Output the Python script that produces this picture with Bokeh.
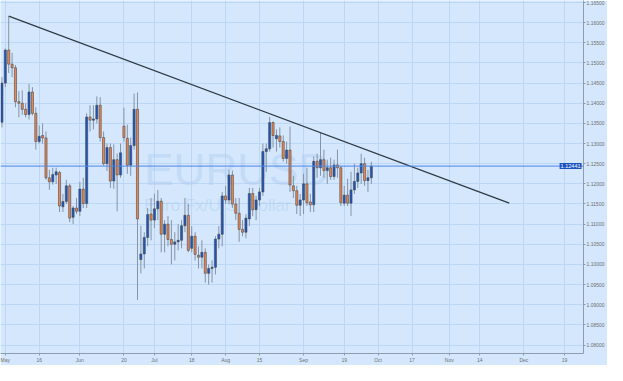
from bokeh.plotting import figure
from bokeh.models import FixedTicker, Range1d, Label, Span, PrintfTickFormatter, ColumnDataSource
from bokeh.embed import file_html
from bokeh.resources import INLINE

# ---- data: EUR/USD daily candles (trading-day index, -1 = Apr 29) ----
opens = [1.1353, 1.1450, 1.1532, 1.1497, 1.1488, 1.1404, 1.1400, 1.1385, 1.1372, 1.1428,
         1.1375, 1.1305, 1.1320, 1.1314, 1.1215, 1.1205, 1.1222, 1.1228, 1.1143, 1.1156,
         1.1195, 1.1117, 1.1140, 1.1132, 1.1187, 1.1151, 1.1366, 1.1358, 1.1361, 1.1395,
         1.1315, 1.1250, 1.1290, 1.1207, 1.1260, 1.1222, 1.1343, 1.1313, 1.1246, 1.1295,
         1.1385, 1.1012, 1.1026, 1.1067, 1.1125, 1.1110, 1.1138, 1.1157, 1.1075, 1.1100,
         1.1062, 1.1050, 1.1056, 1.1060, 1.1096, 1.1122, 1.1040, 1.1070, 1.1023, 1.1018,
         1.1030, 1.0978, 1.0990, 1.0993, 1.1063, 1.1075, 1.1170, 1.1160, 1.1222, 1.1150,
         1.1127, 1.1087, 1.1080, 1.1113, 1.1176, 1.1136, 1.1160, 1.1180, 1.1280, 1.1287,
         1.1352, 1.1312, 1.1319, 1.1305, 1.1263, 1.1284, 1.1195, 1.1183, 1.1147, 1.1160,
         1.1200, 1.1155, 1.1148, 1.1256, 1.1240, 1.1260, 1.1233, 1.1240, 1.1218, 1.1247,
         1.1240, 1.1152, 1.1172, 1.1152, 1.1185, 1.1206, 1.1227, 1.1250, 1.1208, 1.1215]
highs = [1.1465, 1.1536, 1.1616, 1.1525, 1.1495, 1.1430, 1.1432, 1.1400, 1.1448, 1.1440,
         1.1390, 1.1345, 1.1350, 1.1330, 1.1235, 1.1240, 1.1240, 1.1232, 1.1175, 1.1210,
         1.1200, 1.1145, 1.1165, 1.1205, 1.1215, 1.1375, 1.1395, 1.1395, 1.1417, 1.1415,
         1.1330, 1.1300, 1.1300, 1.1298, 1.1275, 1.1300, 1.1389, 1.1347, 1.1315, 1.1424,
         1.1427, 1.1096, 1.1080, 1.1140, 1.1165, 1.1175, 1.1185, 1.1165, 1.1110, 1.1120,
         1.1110, 1.1080, 1.1100, 1.1110, 1.1165, 1.1150, 1.1095, 1.1080, 1.1045, 1.1060,
         1.1040, 1.1000, 1.1010, 1.1070, 1.1095, 1.1180, 1.1195, 1.1235, 1.1233, 1.1165,
         1.1165, 1.1110, 1.1125, 1.1190, 1.1190, 1.1170, 1.1190, 1.1300, 1.1300, 1.1366,
         1.1355, 1.1335, 1.1340, 1.1320, 1.1305, 1.1342, 1.1220, 1.1195, 1.1175, 1.1225,
         1.1240, 1.1175, 1.1268, 1.1275, 1.1327, 1.1285, 1.1260, 1.1265, 1.1260, 1.1285,
         1.1245, 1.1195, 1.1213, 1.1230, 1.1250, 1.1240, 1.1275, 1.1265, 1.1235, 1.1255]
lows = [1.1340, 1.1440, 1.1475, 1.1465, 1.1390, 1.1365, 1.1371, 1.1365, 1.1360, 1.1370,
        1.1285, 1.1300, 1.1300, 1.1210, 1.1185, 1.1198, 1.1200, 1.1130, 1.1130, 1.1150,
        1.1105, 1.1100, 1.1125, 1.1120, 1.1140, 1.1140, 1.1330, 1.1335, 1.1350, 1.1305,
        1.1245, 1.1232, 1.1190, 1.1188, 1.1132, 1.1215, 1.1305, 1.1225, 1.1220, 1.1285,
        1.0912, 1.0978, 1.0990, 1.1045, 1.1060, 1.1090, 1.1110, 1.1030, 1.1030, 1.1045,
        1.1000, 1.1010, 1.1035, 1.1040, 1.1080, 1.1030, 1.1030, 1.1010, 1.0990, 1.0990,
        1.0955, 1.0950, 1.0955, 1.0975, 1.1040, 1.1045, 1.1150, 1.1150, 1.1140, 1.1110,
        1.1056, 1.1070, 1.1065, 1.1095, 1.1120, 1.1110, 1.1145, 1.1170, 1.1230, 1.1280,
        1.1290, 1.1280, 1.1290, 1.1255, 1.1250, 1.1180, 1.1165, 1.1125, 1.1120, 1.1125,
        1.1145, 1.1130, 1.1130, 1.1215, 1.1220, 1.1215, 1.1200, 1.1210, 1.1210, 1.1215,
        1.1145, 1.1145, 1.1145, 1.1120, 1.1175, 1.1190, 1.1200, 1.1195, 1.1180, 1.1200]
closes = [1.1450, 1.1532, 1.1497, 1.1488, 1.1404, 1.1400, 1.1385, 1.1372, 1.1428, 1.1375,
          1.1305, 1.1318, 1.1314, 1.1215, 1.1205, 1.1223, 1.1230, 1.1145, 1.1156, 1.1195,
          1.1115, 1.1140, 1.1132, 1.1187, 1.1151, 1.1366, 1.1358, 1.1361, 1.1395, 1.1315,
          1.1250, 1.1290, 1.1207, 1.1260, 1.1222, 1.1277, 1.1315, 1.1246, 1.1295, 1.1385,
          1.1113, 1.1026, 1.1067, 1.1124, 1.1110, 1.1138, 1.1157, 1.1075, 1.1100, 1.1062,
          1.1050, 1.1056, 1.1060, 1.1096, 1.1122, 1.1035, 1.1070, 1.1025, 1.1018, 1.1030,
          1.0978, 1.0990, 1.0993, 1.1063, 1.1075, 1.1170, 1.1160, 1.1222, 1.1150, 1.1127,
          1.1087, 1.1080, 1.1115, 1.1176, 1.1136, 1.1160, 1.1180, 1.1280, 1.1287, 1.1352,
          1.1320, 1.1320, 1.1305, 1.1263, 1.1284, 1.1197, 1.1183, 1.1147, 1.1160, 1.1200,
          1.1153, 1.1148, 1.1256, 1.1240, 1.1260, 1.1233, 1.1240, 1.1218, 1.1247, 1.1240,
          1.1153, 1.1172, 1.1152, 1.1185, 1.1206, 1.1227, 1.1250, 1.1208, 1.1215, 1.1244]
first_index = -1

x_tick_pos = [0, 10, 22, 35, 44, 55, 65, 75, 88, 100, 110, 120, 131, 140, 153, 165]
x_tick_labels = ["May", "16", "Jun", "20", "Jul", "18", "Aug", "15", "Sep", "19",
                 "Oct", "17", "Nov", "14", "Dec", "19"]
y_ticks = [1.080, 1.085, 1.090, 1.095, 1.100, 1.105, 1.110, 1.115, 1.120,
           1.125, 1.130, 1.135, 1.140, 1.145, 1.150, 1.155, 1.160, 1.165]

trend_x = [1, 148.7]
trend_y = [1.1616, 1.1152]
last_price = 1.12441
symbol = "EURUSD"
description = "Euro Fx/U.S. Dollar"

# ---- build ----
idx = list(range(first_index, first_index + len(closes)))
up = [c >= o for o, c in zip(opens, closes)]
src = ColumnDataSource(dict(
    x=idx, o=opens, h=highs, l=lows, c=closes,
    top=[max(o, c) for o, c in zip(opens, closes)],
    bot=[min(o, c) for o, c in zip(opens, closes)],
    color=["#1a55c4" if u else "#ec8650" for u in up],
))

BG = "#d4e7fc"
W, H = 607, 365
X_MAX = 170.6
p = figure(width=W, height=H, output_backend="svg", toolbar_location=None,
           x_range=Range1d(-1.42, X_MAX), y_range=Range1d(1.0779, 1.1655),
           y_axis_location="right", background_fill_color=BG, border_fill_color=BG,
           min_border_left=0, min_border_top=0, min_border_right=0, min_border_bottom=0)
p.outline_line_color = None

# watermark
p.add_layout(Label(x=41, y=1.1176, text=symbol, text_font_size="44px",
                   text_font="Liberation Sans", text_color="#a9c8ee", text_alpha=0.4,
                   level="underlay"))
p.add_layout(Label(x=41, y=1.1122, text=description, text_font_size="17px",
                   text_font="Liberation Sans", text_color="#a9c8ee", text_alpha=0.4,
                   level="underlay"))

# grids
p.xgrid.ticker = FixedTicker(ticks=x_tick_pos)
p.ygrid.ticker = FixedTicker(ticks=y_ticks)
for g in (p.xgrid, p.ygrid):
    g.grid_line_color = "#bcd6f5"
    g.grid_line_width = 1

# current price line
p.add_layout(Span(location=last_price, dimension="width", line_color="#4f86e8", line_width=1))

# candles
p.segment(x0="x", y0="l", x1="x", y1="h", source=src, line_color="#8494a6", line_width=1)
p.vbar(x="x", width=0.62, top="top", bottom="bot", source=src,
       fill_color="color", line_color="#4a4a4a", line_width=0.6)

# trend line
p.line(trend_x, trend_y, line_color="#2f3a44", line_width=1.3)

# axes
ax = p.yaxis[0]
ax.ticker = FixedTicker(ticks=y_ticks)
ax.formatter = PrintfTickFormatter(format="%.5f")
xa = p.xaxis[0]
xa.ticker = FixedTicker(ticks=x_tick_pos)
xa.major_label_overrides = {t: s for t, s in zip(x_tick_pos, x_tick_labels)}
for a in (ax, xa):
    a.axis_line_color = "#8d9cae"
    a.major_tick_line_color = "#8d9cae"
    a.minor_tick_line_color = None
    a.major_tick_in = 0
    a.major_tick_out = 2
    a.major_label_text_font_size = "5px"
    a.major_label_text_color = "#707070"
    a.major_label_text_font = "Liberation Sans"
    a.major_label_standoff = 1

# last price tag, at the right edge of the plot area
p.add_layout(Label(x=X_MAX, y=last_price, x_offset=-2, text="1.12441", text_align="right",
                   text_font_size="5.5px", text_font="Liberation Sans", text_color="white",
                   text_baseline="middle", background_fill_color="#1a52c0", padding=1))

open("out.html", "w").write(file_html(p, INLINE))
